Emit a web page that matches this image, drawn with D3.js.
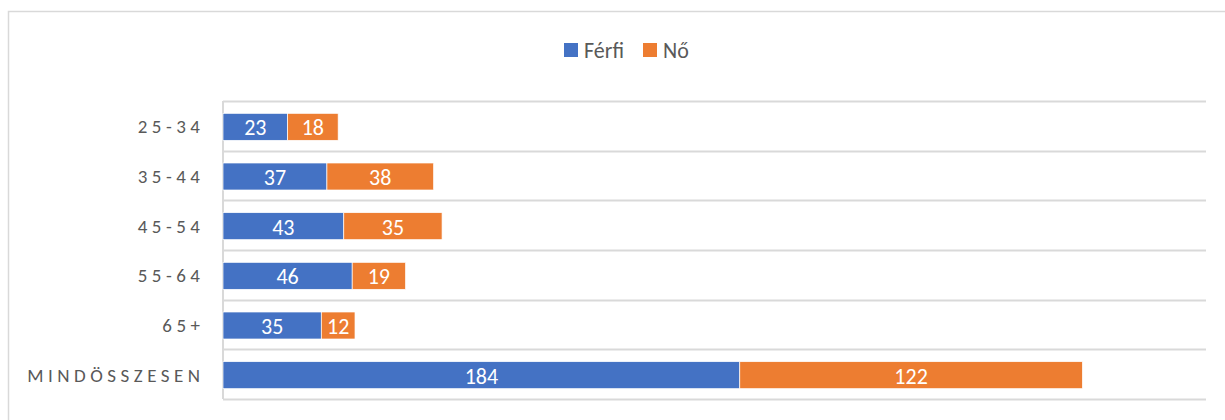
<!DOCTYPE html>
<html>
<head>
<meta charset="utf-8">
<script src="https://cdn.jsdelivr.net/npm/d3@7"></script>
<style>
  body { margin: 0; background: #fff; }
  svg { display: block; font-family: Calibri, Carlito, "Open Sans", sans-serif; }
</style>
</head>
<body>
<div id="chart"></div>
<script>
// age groups, top to bottom
const categories = ["25-34", "35-44", "45-54", "55-64", "65+", "MINDÖSSZESEN"];
const ferfi = [23, 37, 43, 46, 35, 184];
const no = [18, 38, 35, 19, 12, 122];
const seriesNames = ["Férfi", "Nő"];
const colors = ["#4472c4", "#ed7d31"];

const width = 1225, height = 420;
const margin = { top: 101, right: 19, bottom: 21, left: 223 };

const svg = d3.select("#chart").append("svg")
  .attr("width", width)
  .attr("height", height);

// chart frame (cropped on right / bottom)
svg.append("rect")
  .attr("x", 8.5).attr("y", 11.5)
  .attr("width", width).attr("height", height)
  .attr("fill", "none").attr("stroke", "#d9d9d9").attr("stroke-width", 1.5);

const x = d3.scaleLinear().domain([0, 350]).range([margin.left, width - margin.right]);
const y = d3.scaleBand().domain(categories).range([margin.top, height - margin.bottom]).paddingInner(0).paddingOuter(0);

// horizontal gridlines between categories
const gridYs = categories.map(c => y(c)).concat([y.range()[1]]);
svg.append("g")
  .selectAll("line")
  .data(gridYs)
  .join("line")
  .attr("x1", margin.left).attr("x2", x(350))
  .attr("y1", d => Math.round(d) + 0.5).attr("y2", d => Math.round(d) + 0.5)
  .attr("stroke", "#d9d9d9").attr("stroke-width", 2);

// vertical axis line
svg.append("line")
  .attr("x1", margin.left).attr("x2", margin.left)
  .attr("y1", y.range()[0]).attr("y2", y.range()[1])
  .attr("stroke", "#d9d9d9").attr("stroke-width", 2);

const rows = categories.map((c, i) => ({ cat: c, values: [ferfi[i], no[i]] }));
const stack = d3.stack().keys([0, 1]).value((d, k) => d.values[k]);
const stacked = stack(rows);

const barH = 27;
const layer = svg.append("g")
  .selectAll("g")
  .data(stacked)
  .join("g")
  .attr("fill", (d, i) => colors[i]);

layer.selectAll("rect")
  .data(d => d)
  .join("rect")
  .attr("x", d => x(d[0]))
  .attr("width", d => x(d[1]) - x(d[0]))
  .attr("y", d => y(d.data.cat) + y.bandwidth() / 2 - barH / 2 + 1)
  .attr("height", barH)
  .attr("stroke", "#fff")
  .attr("stroke-width", 0.7);

layer.selectAll("text")
  .data(d => d)
  .join("text")
  .attr("x", d => (x(d[0]) + x(d[1])) / 2)
  .attr("y", d => y(d.data.cat) + y.bandwidth() / 2 + 1.5)
  .attr("dy", "0.36em")
  .attr("text-anchor", "middle")
  .attr("fill", "#fff")
  .attr("font-size", 22)
  .text(d => d[1] - d[0]);

// category labels
const spacing = 4.5;
svg.append("g")
  .selectAll("text")
  .data(categories)
  .join("text")
  .attr("x", 200 + spacing)
  .attr("y", d => y(d) + y.bandwidth() / 2 + 1)
  .attr("dy", "0.35em")
  .attr("text-anchor", "end")
  .attr("fill", "#595959")
  .attr("font-size", 19)
  .attr("letter-spacing", spacing + "px")
  .text(d => d);

// legend
const legend = svg.append("g");
const legendX = [564, 643];
seriesNames.forEach((name, i) => {
  legend.append("rect")
    .attr("x", legendX[i]).attr("y", 43)
    .attr("width", 14).attr("height", 14)
    .attr("fill", colors[i]);
  legend.append("text")
    .attr("x", legendX[i] + 20).attr("y", 50)
    .attr("dy", "0.36em")
    .attr("fill", "#595959")
    .attr("font-size", 22)
    .text(name);
});
</script>
</body>
</html>
